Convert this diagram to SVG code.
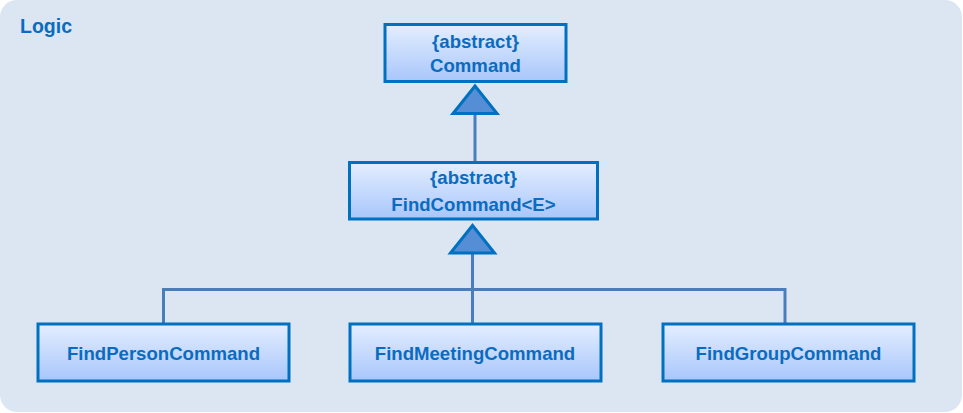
<svg xmlns="http://www.w3.org/2000/svg" width="963" height="413" viewBox="0 0 963 413">
<defs>
<linearGradient id="boxGrad" x1="0" y1="0" x2="0" y2="1">
<stop offset="0" stop-color="#e4eeff"/>
<stop offset="1" stop-color="#a8c6fb"/>
</linearGradient>
<style>
.box{fill:url(#boxGrad);stroke:#0070c0;stroke-width:3}
.lbl{font-family:"Liberation Sans",Arial,sans-serif;font-weight:bold;font-size:18.6px;fill:#0a6cc0;text-anchor:middle}
.title{font-family:"Liberation Sans",Arial,sans-serif;font-weight:bold;font-size:19.5px;fill:#0a6cc0}
.conn{fill:none;stroke:#4a7ebb;stroke-width:3}
.tri{fill:#558ed5;stroke:#0070c0;stroke-width:3;stroke-linejoin:miter}
</style>
</defs>
<rect x="0" y="0" width="963" height="413" fill="#ffffff"/>
<rect id="logic" x="0" y="0" width="962" height="412" rx="17" ry="17" fill="#dce6f2"/>
<text class="title" x="20" y="33">Logic</text>
<g id="connectors">
<line class="conn" x1="475" y1="113" x2="475" y2="163"/>
<line class="conn" x1="472.5" y1="253" x2="472.5" y2="324"/>
<polyline class="conn" points="163.5,324 163.5,289.5 785,289.5 785,324"/>
<polygon class="tri" points="475,86 453,113.5 497,113.5"/>
<polygon class="tri" points="472.5,225.5 450.5,253 494.5,253"/>
</g>
<g id="command">
<rect class="box" x="385" y="24.5" width="181" height="57"/>
<text class="lbl" x="475.5" y="48">{abstract}</text>
<text class="lbl" x="475.5" y="72">Command</text>
</g>
<g id="findcommand">
<rect class="box" x="349.5" y="162.5" width="248" height="56.5"/>
<text class="lbl" x="473.5" y="184">{abstract}</text>
<text class="lbl" x="473.5" y="211">FindCommand&lt;E&gt;</text>
</g>
<g id="findperson">
<rect class="box" x="38" y="324" width="251" height="57"/>
<text class="lbl" x="163.5" y="360">FindPersonCommand</text>
</g>
<g id="findmeeting">
<rect class="box" x="350" y="324" width="251" height="57"/>
<text class="lbl" x="475" y="360">FindMeetingCommand</text>
</g>
<g id="findgroup">
<rect class="box" x="663" y="324" width="251" height="57"/>
<text class="lbl" x="788.5" y="360">FindGroupCommand</text>
</g>
</svg>
